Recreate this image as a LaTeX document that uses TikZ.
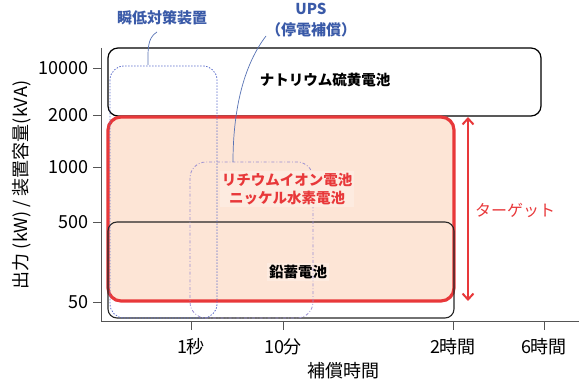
\documentclass[tikz,border=0pt]{standalone}
\usepackage{fontspec}
\setmainfont{Noto Sans CJK JP}
\usetikzlibrary{arrows.meta}
\definecolor{redc}{HTML}{E8383A}
\definecolor{peach}{HTML}{FDE5D6}
\definecolor{peachlt}{HTML}{FDEBE0}
\definecolor{bluet}{HTML}{3A5AA8}
\definecolor{purp}{HTML}{9A8ED2}
\definecolor{dotblue}{HTML}{5F70CC}
\definecolor{axisgray}{HTML}{555555}
\tikzset{
  axisline/.style={draw=axisgray, line width=0.9pt},
  ticklab/.style={font=\fontsize{18}{20}\selectfont, inner sep=0pt},
  boxlab/.style={font=\fontsize{14.5}{18}\selectfont\bfseries, align=center, inner sep=2pt},
  calloutlab/.style={font=\fontsize{15}{21}\selectfont\bfseries, text=bluet, align=center, inner sep=1pt},
  callout/.style={draw=bluet!85, line width=0.7pt},
}
\begin{document}
\begin{tikzpicture}[x=1pt,y=-1pt]
\useasboundingbox (0,0) rectangle (579,387);
% axes
\draw[axisline] (101,48) -- (101,321) -- (579,321);
% y ticks
\foreach \v/\y in {10000/68,2000/115,1000/167,500/222,50/302}{
  \draw[axisline] (93,\y) -- (101,\y);
  \node[ticklab, anchor=east] (y\v) at (89,\y) {\v};
}
% x ticks
\foreach \t/\x/\n in {1秒/191/a,10分/283/b,2時間/453/c,6時間/544/d}{
  \draw[axisline] (\x,321) -- (\x,330);
  \node[ticklab] (x\n) at (\x,347) {\t};
}
\node[ticklab] (xlabel) at (343,371) {補償時間};
\node[ticklab, rotate=90] (ylabel) at (22,185) {出力 (kW) / 装置容量(kVA)};
% NaS box
\draw[black, line width=1.2pt, rounded corners=10pt, fill=white] (108,48) rectangle (541,116);
\node[boxlab] (nas) at (325,80) {ナトリウム硫黄電池};
% red target box
\draw[redc, line width=3.2pt, rounded corners=13pt, fill=peach] (108,117) rectangle (454,301);
% lead box
\draw[black!85, line width=1.1pt, rounded corners=9pt] (108,222) rectangle (454,318);
\node[boxlab, fill=peachlt] (lead) at (298,272) {鉛蓄電池};
% instant-drop device box
\draw[dotblue, line width=0.8pt, dash pattern=on 1.5pt off 1.5pt, rounded corners=14pt] (110,66) rectangle (217,318);
% UPS box
\draw[purp, line width=0.8pt, dash dot, rounded corners=16pt] (190,162) rectangle (313,318);
% lithium text
\node[boxlab, text=redc, fill=peachlt] (li) at (287,189) {リチウムイオン電池\\ニッケル水素電池};
% callouts
\node[calloutlab] (inst) at (162,18) {瞬低対策装置};
\coordinate (instp) at (148,65);
\draw[callout] (157,32) .. controls (147,38) and (148,50) .. (instp);
\node[calloutlab] (ups) at (311,20) {UPS\\（停電補償）};
\coordinate (upsp) at (233,162);
\draw[callout] (266,36) .. controls (240,70) and (233,120) .. (upsp);
% target arrow
\coordinate (tt) at (468,117);
\coordinate (tb) at (468,301);
\draw[redc, line width=2pt, {Straight Barb[length=6pt,width=11pt]}-{Straight Barb[length=6pt,width=11pt]}] (tt) -- (tb);
\node[font=\fontsize{16}{18}\selectfont, text=redc] (target) at (515,210) {ターゲット};
\end{tikzpicture}
\end{document}
